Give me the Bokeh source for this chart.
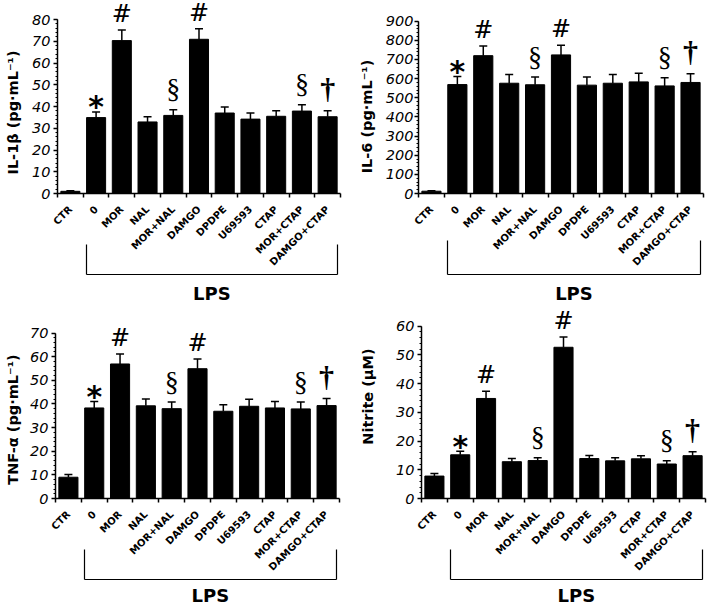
import math
from bokeh.plotting import figure
from bokeh.models import Range1d, FixedTicker, SingleIntervalTicker, LinearAxis, ColumnDataSource
from bokeh.layouts import column, row
from bokeh.core.properties import value
from bokeh.embed import file_html
from bokeh.resources import INLINE

categories = ["CTR", "0", "MOR", "NAL", "MOR+NAL", "DAMGO", "DPDPE", "U69593",
              "CTAP", "MOR+CTAP", "DAMGO+CTAP"]
markers = ["", "*", "#", "", "§", "#", "", "", "", "§", "†"]
group_label = "LPS"

il1b = [1.0, 34.9, 70.3, 32.9, 35.9, 70.9, 37.0, 34.2, 35.5, 37.9, 35.3]
il1b_err = [0.3, 2.6, 4.9, 2.4, 2.6, 4.9, 2.8, 2.8, 2.6, 2.9, 2.8]

il6 = [12, 569, 720, 576, 568, 724, 566, 576, 583, 562, 580]
il6_err = [3, 42, 51, 45, 40, 50, 42, 45, 45, 42, 45]

tnfa = [9.0, 38.3, 56.9, 39.2, 38.0, 54.9, 36.9, 39.0, 38.3, 37.9, 39.3]
tnfa_err = [1.1, 2.7, 4.2, 2.9, 2.8, 4.1, 2.7, 3.0, 2.7, 2.9, 3.0]

nitrite = [7.8, 15.2, 34.8, 12.8, 13.2, 52.6, 13.9, 13.1, 13.8, 12.0, 14.9]
nitrite_err = [0.9, 1.2, 2.5, 1.1, 1.0, 3.6, 1.1, 1.1, 1.1, 1.1, 1.4]

BAR_W = 0.74
SANS = "DejaVu Sans"

SYMBOL_STYLE = {
    "*": dict(font="DejaVu Sans", style="bold", size="30px", off=-5),
    "#": dict(font="DejaVu Serif", style="normal", size="24px", off=-16),
    "§": dict(font="Liberation Serif", style="normal", size="28px", off=-21),
    "†": dict(font="Liberation Serif", style="bold", size="30px", off=-22),
}


def panel(vals, errs, ylab, ymax, yint, W, H, fl, fr, y0, yt,
          tick_standoff, title_standoff, title_cy, spacer, bracket_in, lps_standoff):
    n = len(categories)
    ppu = (y0 - yt) / ymax
    y_end = y0 / ppu
    p = figure(width=W, height=H, x_range=Range1d(0, n), y_range=Range1d(0, y_end),
               output_backend="svg", toolbar_location=None,
               min_border_left=fl, min_border_right=fr, min_border_top=0,
               min_border_bottom=H - y0)
    p.outline_line_color = None
    p.grid.visible = False

    x = [i + 0.5 for i in range(n)]
    tops = [v + e for v, e in zip(vals, errs)]
    src = ColumnDataSource(dict(x=x, v=vals, top=tops))
    p.vbar(x="x", top="v", bottom=0, width=BAR_W, source=src,
           fill_color="black", line_color="black")
    p.segment(x0="x", y0="v", x1="x", y1="top", source=src, line_color="black", line_width=1.5)
    p.scatter(x="x", y="top", marker="dash", size=8, line_width=1.5,
              line_color="black", source=src)

    for sym, st in SYMBOL_STYLE.items():
        idx = [i for i, m in enumerate(markers) if m == sym]
        p.text(x=[x[i] for i in idx], y=[tops[i] for i in idx], text=[sym] * len(idx),
               text_font=value(st["font"]), text_font_style=st["style"],
               text_font_size=st["size"], text_align="center",
               text_baseline="alphabetic", y_offset=st["off"], text_color="black")

    # category axis (ticks on the category boundaries, labels at centres)
    xa = p.xaxis[0]
    xa.ticker = FixedTicker(ticks=x, minor_ticks=list(range(n + 1)))
    xa.major_label_overrides = {xi: c for xi, c in zip(x, categories)}
    xa.major_label_orientation = math.pi / 4
    xa.major_tick_out = 0
    xa.major_tick_in = 0
    xa.minor_tick_out = 4
    xa.minor_tick_in = 0
    xa.major_label_text_font = SANS
    xa.major_label_text_font_style = "bold"
    xa.major_label_text_font_size = "10px"
    xa.major_label_text_color = "black"
    xa.axis_line_width = 1.5
    xa.minor_tick_line_width = 1.5
    xa.major_label_standoff = 10

    # spacer between labels and the LPS bracket
    sp = LinearAxis(ticker=FixedTicker(ticks=[]), axis_line_color=None,
                    major_tick_out=spacer, major_tick_in=0, minor_tick_out=0, minor_tick_in=0,
                    major_tick_line_color=None, minor_tick_line_color=None,
                    major_label_standoff=0)
    p.add_layout(sp, "below")

    # LPS bracket as an axis spanning the treated groups
    xl = 1 + (1 - BAR_W) / 2
    xr = n - (1 - BAR_W) / 2
    xm = round((xl + xr) / 2, 3)
    br = LinearAxis(ticker=FixedTicker(ticks=[xm], minor_ticks=[xl + 0.001, xr - 0.001]),
                    bounds=(xl, xr), major_label_overrides={xm: group_label},
                    major_tick_in=0, major_tick_out=0, minor_tick_out=0,
                    minor_tick_in=bracket_in, axis_line_width=1.2,
                    minor_tick_line_width=1.2, axis_line_color="black",
                    minor_tick_line_color="black",
                    major_label_text_font=SANS, major_label_text_font_style="bold",
                    major_label_text_font_size="18px", major_label_text_color="black",
                    major_label_standoff=lps_standoff)
    p.add_layout(br, "below")

    ya = p.yaxis[0]
    ya.ticker = SingleIntervalTicker(interval=yint, num_minor_ticks=5)
    ya.bounds = (0, ymax)
    ya.major_label_text_font = SANS
    ya.major_label_text_font_style = "italic"
    ya.major_label_text_font_size = "14.5px"
    ya.major_label_text_color = "black"
    ya.major_tick_out = 4
    ya.major_tick_in = 0
    ya.minor_tick_out = 2
    ya.minor_tick_in = 0
    ya.axis_line_width = 1.5
    ya.major_tick_line_width = 1.5
    ya.major_label_standoff = tick_standoff

    # y title placed at its own height via a label-only axis
    yc = round((y0 - title_cy) / ppu, 3)
    ta = LinearAxis(ticker=FixedTicker(ticks=[yc]), major_label_overrides={yc: ylab},
                    major_label_orientation="parallel", axis_line_color=None,
                    major_tick_line_color=None, minor_tick_line_color=None,
                    major_tick_out=0, major_tick_in=0, minor_tick_out=0, minor_tick_in=0,
                    major_label_text_font=SANS, major_label_text_font_style="bold",
                    major_label_text_font_size="14.5px", major_label_text_color="black",
                    major_label_standoff=title_standoff)
    p.add_layout(ta, "left")
    return p


p1 = panel(il1b, il1b_err, "IL-1β (pg·mL⁻¹)", 80, 10,
           355, 307, 57, 15, 193, 19, 3, 8, 112, 5, 30, 8)
p2 = panel(il6, il6_err, "IL-6 (pg·mL⁻¹)", 900, 100,
           354, 307, 63, 6, 193, 20.7, 1, 7, 116, 8, 34, 8)
p3 = panel(tnfa, tnfa_err, "TNF-α (pg·mL⁻¹)", 70, 10,
           355, 306, 55, 16, 191, 25.5, 3, 6, 112, 16, 30, 5)
p4 = panel(nitrite, nitrite_err, "Nitrite (μM)", 60, 10,
           354, 306, 66, 4, 193, 18.7, 3, 17, 90, 16, 30, 5)

layout = column(row(p1, p2), row(p3, p4))
open("out.html", "w").write(file_html(layout, INLINE))
